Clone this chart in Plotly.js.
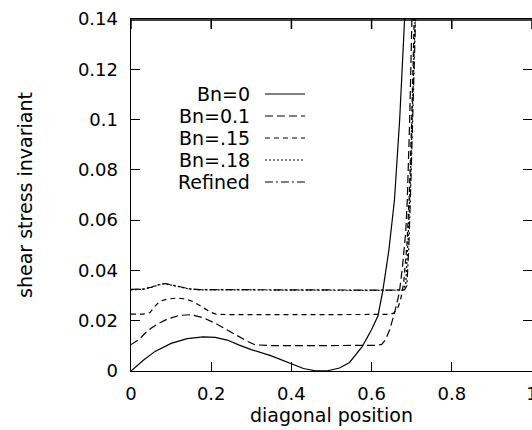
<!DOCTYPE html>
<html>
<head>
<meta charset="utf-8">
<script src="https://cdn.plot.ly/plotly-3.0.1.min.js"></script>
<style>
html,body{margin:0;padding:0;background:#fff;}
#chart{width:532px;height:430px;}
</style>
</head>
<body>
<div id="chart"></div>
<script>
// ---- data ----
var seriesNames = ["Bn=0", "Bn=0.1", "Bn=.15", "Bn=.18", "Refined"];
var seriesDash = ["solid", "8px,4px", "5px,4px", "2px,2px", "8px,3px,2px,3px"];

var xBn0 = [0, 0.03, 0.06, 0.1, 0.14, 0.18, 0.21, 0.24, 0.27, 0.3, 0.35, 0.4, 0.43, 0.46, 0.49, 0.52, 0.545, 0.577, 0.6, 0.616, 0.628, 0.643, 0.657, 0.67, 0.682, 0.69];
var yBn0 = [0, 0.0042, 0.0078, 0.0110, 0.0129, 0.0136, 0.0134, 0.0123, 0.0103, 0.0085, 0.0060, 0.0030, 0.0010, 0.0001, 0.0001, 0.0012, 0.0034, 0.0098, 0.0165, 0.022, 0.032, 0.048, 0.068, 0.100, 0.140, 0.165];

var xBn01 = [0, 0.02, 0.035, 0.05, 0.07, 0.09, 0.12, 0.15, 0.18, 0.21, 0.24, 0.27, 0.29, 0.31, 0.35, 0.45, 0.55, 0.6, 0.615, 0.625, 0.635, 0.645, 0.657, 0.669, 0.677, 0.685, 0.689, 0.695, 0.70, 0.704];
var yBn01 = [0.0105, 0.0125, 0.0150, 0.0170, 0.0190, 0.0206, 0.0221, 0.0224, 0.0212, 0.0190, 0.0163, 0.0135, 0.0118, 0.0104, 0.0101, 0.0101, 0.0101, 0.0101, 0.0102, 0.0106, 0.0125, 0.0164, 0.023, 0.031, 0.0415, 0.055, 0.068, 0.10, 0.14, 0.165];

var xBn015 = [0, 0.03, 0.047, 0.06, 0.072, 0.09, 0.114, 0.135, 0.155, 0.172, 0.188, 0.2, 0.212, 0.25, 0.35, 0.45, 0.55, 0.62, 0.645, 0.655, 0.665, 0.672, 0.68, 0.688, 0.694, 0.70, 0.706, 0.71];
var yBn015 = [0.0226, 0.0226, 0.0232, 0.0258, 0.0277, 0.0286, 0.0290, 0.0287, 0.0276, 0.0260, 0.0244, 0.0233, 0.0226, 0.0224, 0.0224, 0.0224, 0.0224, 0.0224, 0.0225, 0.0230, 0.0250, 0.0280, 0.035, 0.050, 0.070, 0.100, 0.140, 0.165];

var xBn018 = [0, 0.03, 0.05, 0.07, 0.085, 0.1, 0.12, 0.146, 0.17, 0.25, 0.35, 0.45, 0.55, 0.65, 0.678, 0.685, 0.691, 0.697, 0.703, 0.709, 0.713];
var yBn018 = [0.0323, 0.0325, 0.0332, 0.0343, 0.0347, 0.0342, 0.0333, 0.0326, 0.0323, 0.0322, 0.0321, 0.0321, 0.0321, 0.0321, 0.0322, 0.0345, 0.052, 0.078, 0.108, 0.140, 0.165];

var xRefined = [0, 0.03, 0.05, 0.07, 0.085, 0.1, 0.12, 0.146, 0.17, 0.25, 0.35, 0.45, 0.55, 0.65, 0.682, 0.688, 0.693, 0.698, 0.704, 0.71, 0.714];
var yRefined = [0.0325, 0.0326, 0.0333, 0.0344, 0.0348, 0.0343, 0.0334, 0.0327, 0.0324, 0.0323, 0.0322, 0.0322, 0.0322, 0.0322, 0.0323, 0.0340, 0.050, 0.075, 0.105, 0.140, 0.165];

var xTickVals = [0, 0.2, 0.4, 0.6, 0.8, 1];
var xTickText = ["0", "0.2", "0.4", "0.6", "0.8", "1"];
var yTickVals = [0, 0.02, 0.04, 0.06, 0.08, 0.1, 0.12, 0.14];
var yTickText = ["0", "0.02", "0.04", "0.06", "0.08", "0.1", "0.12", "0.14"];

var xTitle = "diagonal position";
var yTitle = "shear stress invariant";

// ---- build ----
var xs = [xBn0, xBn01, xBn015, xBn018, xRefined];
var ys = [yBn0, yBn01, yBn015, yBn018, yRefined];
var FONT = "DejaVu Sans, Liberation Sans, Arial, sans-serif";

var traces = seriesNames.map(function (n, i) {
  return {
    type: "scatter", mode: "lines", name: n,
    x: xs[i], y: ys[i],
    line: { color: "#000", width: 1.2, dash: seriesDash[i] },
    showlegend: false, hoverinfo: "skip"
  };
});

// custom legend: text right-aligned, sample line to its right
var annotations = [];
var shapes = [];
var legTop = 0.787, legStep = 0.0625;
seriesNames.forEach(function (n, i) {
  var yy = legTop - i * legStep;
  annotations.push({
    xref: "paper", yref: "paper", x: 0.302, y: yy,
    xanchor: "right", yanchor: "middle", showarrow: false,
    text: n, font: { family: FONT, size: 19, color: "#000" }
  });
  shapes.push({
    type: "line", xref: "paper", yref: "paper",
    x0: 0.334, x1: 0.434, y0: yy, y1: yy,
    line: { color: "#000", width: 1.2, dash: seriesDash[i] }
  });
});

// top frame line and its inward ticks (frame decoration), slightly inside the top edge
var topY = 1 - 1 / 352;
shapes.push({
  type: "line", xref: "paper", yref: "paper", layer: "above",
  x0: 0, x1: 1, y0: topY, y1: topY,
  line: { color: "#000", width: 1.6 }
});
xTickVals.forEach(function (v) {
  shapes.push({
    type: "line", xref: "x", yref: "paper", layer: "above",
    x0: v, x1: v, y0: topY, y1: topY - 9 / 352,
    line: { color: "#000", width: 1.5 }
  });
});

var axisCommon = {
  showline: true, linecolor: "#000", linewidth: 1.4, mirror: "ticks",
  ticks: "inside", ticklen: 9, tickwidth: 1.2, tickcolor: "#000",
  showgrid: false, zeroline: false, automargin: false,
  ticklabeloverflow: "allow",
  tickfont: { family: FONT, size: 18, color: "#000" }
};

var layout = {
  width: 532, height: 430,
  margin: { l: 131, r: 0, t: 19, b: 59, pad: 0 },
  paper_bgcolor: "#fff", plot_bgcolor: "#fff",
  showlegend: false,
  xaxis: Object.assign({}, axisCommon, {
    range: [0, 1], tickmode: "array", tickvals: xTickVals, ticktext: xTickText,
    ticklabelstandoff: 6,
    title: { text: xTitle, font: { family: FONT, size: 19, color: "#000" }, standoff: 2 }
  }),
  yaxis: Object.assign({}, axisCommon, {
    range: [0, 0.14], tickmode: "array", tickvals: yTickVals, ticktext: yTickText,
    ticklabelstandoff: 8,
    title: { text: yTitle, font: { family: FONT, size: 19, color: "#000" }, standoff: 40 }
  }),
  annotations: annotations,
  shapes: shapes
};

Plotly.newPlot("chart", traces, layout, { staticPlot: true, displayModeBar: false });
</script>
</body>
</html>
